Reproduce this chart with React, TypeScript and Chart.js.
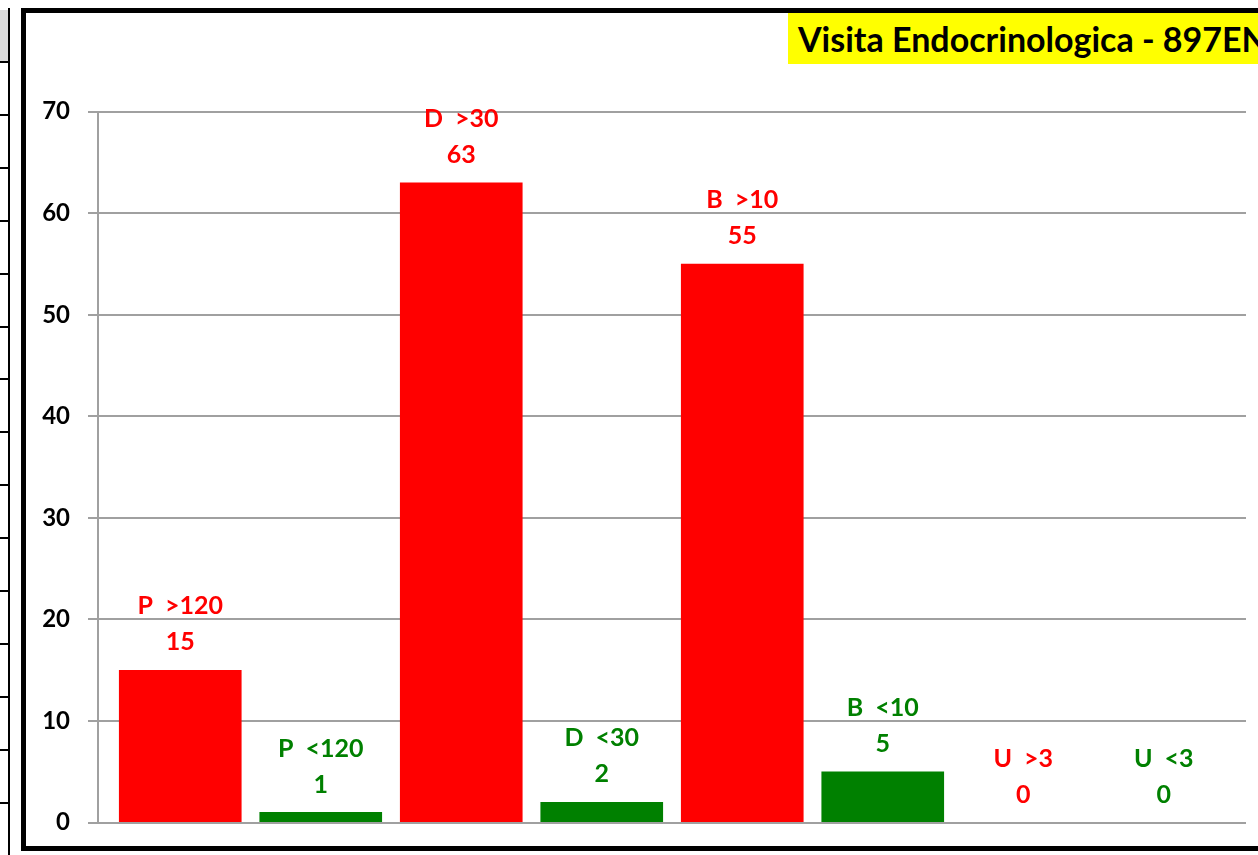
import React, { useEffect, useRef } from "react";
import { Chart, registerables } from "chart.js";

Chart.register(...registerables);

const categories = ["P  >120", "P  <120", "D  >30", "D  <30", "B  >10", "B  <10", "U  >3", "U  <3"];
const values = [15, 1, 63, 2, 55, 5, 0, 0];
const barColors = ["#ff0000", "#008000", "#ff0000", "#008000", "#ff0000", "#008000", "#ff0000", "#008000"];
const yTicks = [0, 10, 20, 30, 40, 50, 60, 70];
const titleText = "Visita Endocrinologica - 897EN";

const W = 1258;
const H = 855;
const tableLines = [62, 114.9, 167.8, 220.7, 273.6, 326.5, 379.4, 432.3, 485.2, 538.1, 591, 643.9, 696.8, 749.7, 802.6];

const labelPlugin = {
  id: "barLabels",
  afterDatasetsDraw(chart: any) {
    const ctx = chart.ctx;
    const meta = chart.getDatasetMeta(0);
    ctx.save();
    ctx.font = "bold 25px Lato";
    ctx.textAlign = "center";
    ctx.textBaseline = "middle";
    meta.data.forEach((el: any, i: number) => {
      ctx.fillStyle = barColors[i];
      ctx.fillText(String(values[i]), el.x, el.y - 28);
      ctx.fillText(categories[i], el.x, el.y - 64);
    });
    ctx.restore();
  },
};

export default function App() {
  const ref = useRef<HTMLCanvasElement | null>(null);
  useEffect(() => {
    if (!ref.current) return;
    const xPad = 12 / 140.5;
    const chart = new Chart(ref.current, {
      type: "bar",
      data: {
        datasets: [
          {
            data: values.map((v, i) => ({ x: i, y: v })),
            backgroundColor: values.map((v, i) => (v === 0 ? "rgba(0,0,0,0)" : barColors[i])),
            borderWidth: 0,
            barThickness: 122,
          } as any,
        ],
      },
      options: {
        animation: false,
        responsive: false,
        maintainAspectRatio: false,
        layout: { padding: { left: 0, right: 12, top: 111.7, bottom: 31.6 } },
        plugins: { legend: { display: false }, tooltip: { enabled: false }, title: { display: false } },
        scales: {
          x: {
            type: "linear",
            min: -0.5 - xPad,
            max: 7.5 + xPad,
            offset: false,
            display: false,
            grid: { display: false, offset: false },
          },
          y: {
            min: 0,
            max: 70,
            afterFit: (scale: any) => {
              scale.width = 98;
            },
            afterBuildTicks: (scale: any) => {
              scale.ticks = yTicks.map((v) => ({ value: v }));
            },
            ticks: {
              color: "#000000",
              font: { family: "Lato", size: 24, weight: "bold" },
              padding: 18,
            },
            grid: { color: "#a0a0a0", lineWidth: 2, tickLength: 10 },
            border: { display: true, color: "#a0a0a0", width: 2 },
          },
        },
      } as any,
      plugins: [labelPlugin],
    });
    return () => chart.destroy();
  }, []);

  return (
    <div style={{ position: "fixed", left: 0, top: 0, width: W, height: H, overflow: "hidden", background: "#ffffff" }}>
      <div style={{ position: "absolute", left: 0, top: 10, width: 8, height: 52, background: "#d9d9d9" }} />
      <div style={{ position: "absolute", left: 8, top: 8, width: 2, height: H, background: "#000" }} />
      {tableLines.map((y, i) => (
        <div key={i} style={{ position: "absolute", left: 0, top: y - 1, width: 9, height: 2, background: "#000" }} />
      ))}
      <canvas ref={ref} width={W} height={H} style={{ position: "absolute", left: 0, top: 0, width: W, height: H }} />
      <div
        style={{
          position: "absolute",
          left: 21,
          top: 8,
          width: W + 50,
          height: 851 - 8 - 10,
          border: "5px solid #000",
          pointerEvents: "none",
        }}
      />
      <div
        style={{
          position: "absolute",
          left: 788,
          top: 13,
          width: 600,
          height: 51,
          background: "#ffff00",
          display: "flex",
          alignItems: "center",
          paddingLeft: 10,
          boxSizing: "border-box",
          fontFamily: "Lato",
          fontWeight: "bold",
          fontSize: 34,
          color: "#000",
          whiteSpace: "nowrap",
        }}
      >
        {titleText}
      </div>
    </div>
  );
}
